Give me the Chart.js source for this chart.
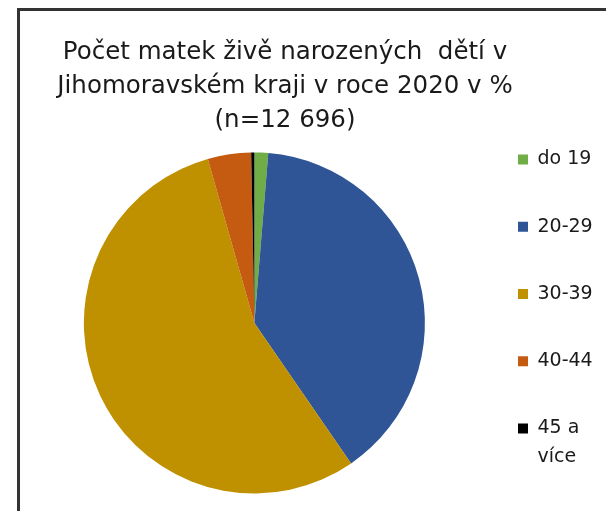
<!DOCTYPE html>
<html>
<head>
<meta charset="utf-8">
<script src="https://cdn.jsdelivr.net/npm/chart.js@4/dist/chart.umd.min.js"></script>
<style>
  html, body { margin: 0; padding: 0; background: #fff; overflow: hidden; }
  #wrap { position: relative; width: 606px; height: 511px; overflow: hidden; }
  #frame { position: absolute; left: 17px; top: 8px; width: 700px; height: 600px; border: 3px solid #333; box-sizing: border-box; }
  #pie { position: absolute; left: 0; top: 0; }
</style>
</head>
<body>
<div id="wrap">
  <div id="frame"></div>
  <canvas id="pie" width="606" height="511"></canvas>
</div>
<script>
// age groups of mothers, share in %
var labels = ['do 19', '20-29', '30-39', '40-44', '45 a více'];
var legendLines = [['do 19', ''], ['20-29', ''], ['30-39', ''], ['40-44', ''], ['45 a', 'více']];
var shares = [1.3, 39.1, 55.2, 4.1, 0.3];
var colors = ['#70AD47', '#2F5597', '#BF9000', '#C55A11', '#000000'];
var titleLines = ['Počet matek živě narozených  dětí v', 'Jihomoravském kraji v roce 2020 v %', '(n=12 696)'];

window.addEventListener('load', setup);

// the title in the original sits a bit left of the canvas centre
const titleShift = {
  id: 'titleShift',
  afterLayout(chart) {
    chart.titleBlock.right -= 25;
  }
};

function setup() {
  const ctx = document.getElementById('pie').getContext('2d');
  const pieDefaults = Chart.overrides.pie.plugins.legend.labels.generateLabels;

  new Chart(ctx, {
    type: 'pie',
    data: {
      labels: labels,
      datasets: [
        {
          data: shares,
          backgroundColor: colors,
          borderWidth: 0,
          hoverOffset: 0
        }
      ]
    },
    plugins: [titleShift],
    options: {
      responsive: false,
      animation: false,
      events: [],
      layout: {
        padding: { left: -3.75, right: 7.25, top: 0, bottom: 17.5 }
      },
      plugins: {
        title: {
          display: true,
          text: titleLines,
          color: '#1a1a1a',
          font: { family: "'DejaVu Sans', sans-serif", size: 24.5, weight: 'normal', lineHeight: 1.39 },
          padding: { top: 36, bottom: 14.3 }
        },
        legend: {
          position: 'right',
          align: 'start',
          maxWidth: 90,
          title: {
            display: true,
            text: ' ',
            color: 'rgba(0,0,0,0)',
            font: { size: 10, lineHeight: 1 },
            padding: { top: 130.75, bottom: 0 }
          },
          labels: {
            color: '#1a1a1a',
            font: { family: "'DejaVu Sans', sans-serif", size: 19, lineHeight: 29 / 19 },
            boxWidth: 10,
            boxHeight: 10,
            padding: 9.25,
            generateLabels: function (chart) {
              //split the labels in lines so the spacing matches
              return pieDefaults(chart).map(function (item, i) {
                item.text = legendLines[i];
                item.lineWidth = 0;
                return item;
              });
            }
          }
        },
        tooltip: { enabled: false }
      }
    }
  });
}
</script>
</body>
</html>
